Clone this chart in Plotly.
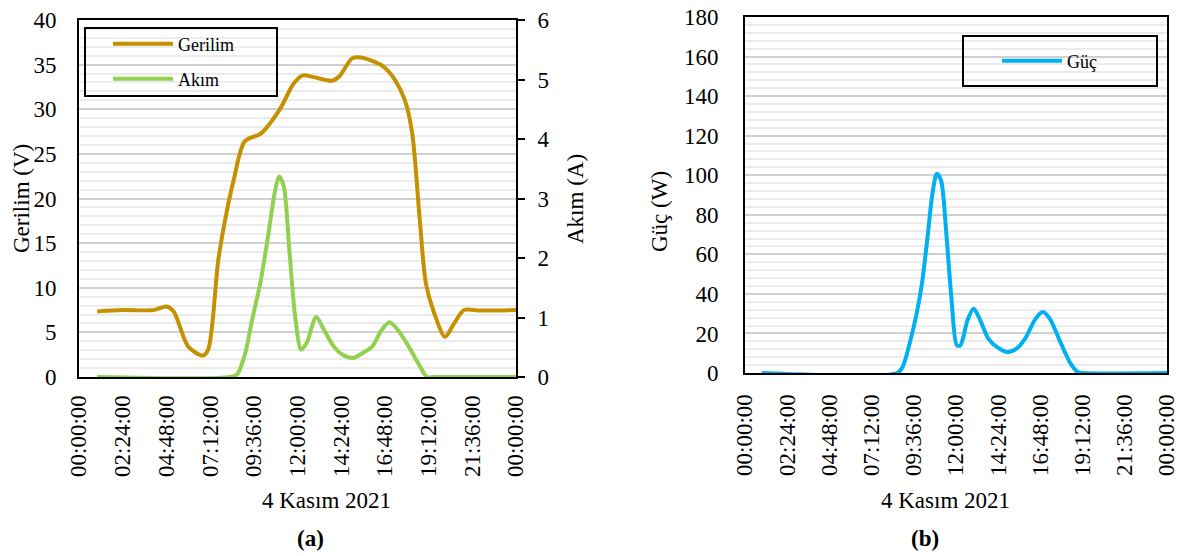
import plotly.graph_objects as go

W, H = 1189, 556

# ---- data (hours of day) ----
tick_vals = [0, 2.4, 4.8, 7.2, 9.6, 12.0, 14.4, 16.8, 19.2, 21.6, 24.0]
tick_text = ["00:00:00", "02:24:00", "04:48:00", "07:12:00", "09:36:00", "12:00:00",
             "14:24:00", "16:48:00", "19:12:00", "21:36:00", "00:00:00"]

gerilim_t = [1.0, 2.4, 4.1, 4.8, 5.2, 6.0, 6.8, 7.1, 7.65, 8.1, 8.5, 9.1, 10.0, 11.0,
             11.8, 12.3, 12.9, 13.9, 14.3, 15.0, 15.5, 16.7, 17.35, 17.9, 18.3, 18.7,
             19.05, 19.5, 20.1, 20.6, 21.15, 22.0, 24.0]
gerilim_v = [7.35, 7.5, 7.5, 7.9, 7.35, 3.4, 2.4, 3.1, 13.1, 18.4, 22.1, 26.4, 27.3, 29.9,
             32.9, 33.8, 33.6, 33.2, 33.7, 35.7, 35.8, 34.8, 33.3, 31.0, 27.3, 18.0,
             10.5, 7.2, 4.5, 6.0, 7.5, 7.45, 7.5]

akim_t = [1.0, 8.3, 8.7, 9.13, 9.5, 9.97, 10.4, 10.75, 11.0, 11.25, 11.55, 11.87, 12.2,
          12.5, 13.03, 13.46, 14.0, 14.5, 15.04, 15.56, 16.1, 16.62, 17.05, 17.57, 18.2,
          18.73, 19.1, 19.5, 24.0]
akim_v = [0, 0, 0.05, 0.4, 0.95, 1.6, 2.4, 3.1, 3.37, 3.2, 2.14, 1.02, 0.46,
          0.57, 1.01, 0.79, 0.51, 0.37, 0.32, 0.40, 0.51, 0.79, 0.92, 0.77, 0.46,
          0.18, 0.0, 0, 0]

guc_t = [0.95, 8.66, 8.96, 9.36, 9.76, 10.06, 10.36, 10.66, 10.91, 11.15, 11.45, 11.75,
         12.05, 12.25, 12.65, 13.0, 13.34, 13.84, 14.34, 14.94, 15.44, 15.93, 16.53,
         16.93, 17.33, 17.93, 18.52, 18.92, 19.2, 24.0]
guc_v = [0, 0, 3.0, 14.8, 30, 45, 67, 90.7, 100.8, 97.4, 70.4, 36.7,
         14, 14, 26.6, 32.5, 27.5, 17.4, 13.1, 10.6, 12.3, 17.4, 27.5,
         30.8, 27.5, 15.7, 4.7, 0.5, 0, 0]

FONT = "Liberation Serif, Times New Roman, serif"
C_GER = "#C59100"
C_AKIM = "#92D050"
C_GUC = "#00B0F0"

def px(x):
    return x / W

def py(y):
    return 1 - y / H

fig = go.Figure()
fig.add_trace(go.Scatter(x=gerilim_t, y=gerilim_v, name="Gerilim", mode="lines",
                         line=dict(color=C_GER, width=4, shape="spline", smoothing=0.8),
                         xaxis="x", yaxis="y", legend="legend"))
fig.add_trace(go.Scatter(x=akim_t, y=akim_v, name="Akım", mode="lines",
                         line=dict(color=C_AKIM, width=4, shape="spline", smoothing=0.8),
                         xaxis="x", yaxis="y2", legend="legend2"))
fig.add_trace(go.Scatter(x=guc_t, y=guc_v, name="Güç", mode="lines",
                         line=dict(color=C_GUC, width=4, shape="spline", smoothing=0.8),
                         xaxis="x2", yaxis="y3", legend="legend3"))

axfont = dict(family=FONT, size=23, color="black")
MAJ = "#d0d0d0"
MIN = "#ececec"

xa_common = dict(range=[0, 24], tickmode="array", tickvals=tick_vals, ticktext=tick_text,
                 tickangle=-90, tickfont=axfont, showgrid=False, zeroline=False,
                 showline=True, linecolor="black", linewidth=2, mirror=True,
                 ticks="", automargin=False)

fig.update_layout(
    width=W, height=H, paper_bgcolor="white", plot_bgcolor="white",
    margin=dict(l=0, r=0, t=0, b=0),
    xaxis=dict(domain=[px(79), px(516)], anchor="y", ticklabelstandoff=7, **xa_common),
    yaxis=dict(domain=[py(377), py(20)], anchor="x", range=[0, 40], dtick=5,
               tickfont=axfont, showgrid=True, gridcolor=MAJ, gridwidth=1.5,
               minor=dict(dtick=1, showgrid=True, gridcolor=MIN, gridwidth=1.5),
               zeroline=False, showline=True, linecolor="black", linewidth=2,
               ticks="", ticklabelstandoff=16, automargin=False),
    yaxis2=dict(domain=[py(377), py(20)], anchor="x", overlaying="y", side="right",
                range=[0, 6], dtick=1, tickfont=axfont, showgrid=False, zeroline=False,
                showline=True, linecolor="black", linewidth=2, ticks="outside",
                ticklen=7, tickwidth=2, tickcolor="black", ticklabelstandoff=8,
                automargin=False),
    xaxis2=dict(domain=[px(745), px(1167)], anchor="y3", ticklabelstandoff=10, **xa_common),
    yaxis3=dict(domain=[py(373), py(17)], anchor="x2", range=[0, 180], dtick=20,
                tickfont=axfont, showgrid=True, gridcolor=MAJ, gridwidth=1.5,
                minor=dict(dtick=4, showgrid=True, gridcolor=MIN, gridwidth=1.5),
                zeroline=False, showline=True, linecolor="black", linewidth=2,
                mirror=True, ticks="", ticklabelstandoff=20, automargin=False),
    showlegend=True,
)

legfont = dict(family=FONT, size=18, color="black")
leg_common = dict(font=legfont, bgcolor="rgba(0,0,0,0)", borderwidth=0,
                  xanchor="left", yanchor="middle", itemwidth=60)
fig.update_layout(
    legend=dict(x=px(108), y=py(44), **leg_common),
    legend2=dict(x=px(108), y=py(79), **leg_common),
    legend3=dict(x=px(997), y=py(61), **leg_common),
)

# legend frames
for (x0, y0, x1, y1) in [(85, 28, 277, 96), (963, 36, 1157, 86)]:
    fig.add_shape(type="rect", xref="paper", yref="paper",
                  x0=px(x0), x1=px(x1), y0=py(y0), y1=py(y1),
                  line=dict(color="black", width=2), fillcolor="rgba(0,0,0,0)")

titfont = dict(family=FONT, size=23, color="black")
ann = [
    dict(text="Gerilim (V)", x=px(21), y=py(199), textangle=-90),
    dict(text="Akım (A)", x=px(575), y=py(199), textangle=-90),
    dict(text="Güç (W)", x=px(659), y=py(211), textangle=-90),
    dict(text="4 Kasım 2021", x=px(326), y=py(500)),
    dict(text="4 Kasım 2021", x=px(945), y=py(500)),
    dict(text="<b>(a)</b>", x=px(310), y=py(538)),
    dict(text="<b>(b)</b>", x=px(925), y=py(538)),
]
for a in ann:
    fig.add_annotation(xref="paper", yref="paper", showarrow=False,
                       xanchor="center", yanchor="middle", font=titfont, **a)

fig.write_html("out.html", config={"displayModeBar": False},
               post_script="document.body.style.margin='0';")
